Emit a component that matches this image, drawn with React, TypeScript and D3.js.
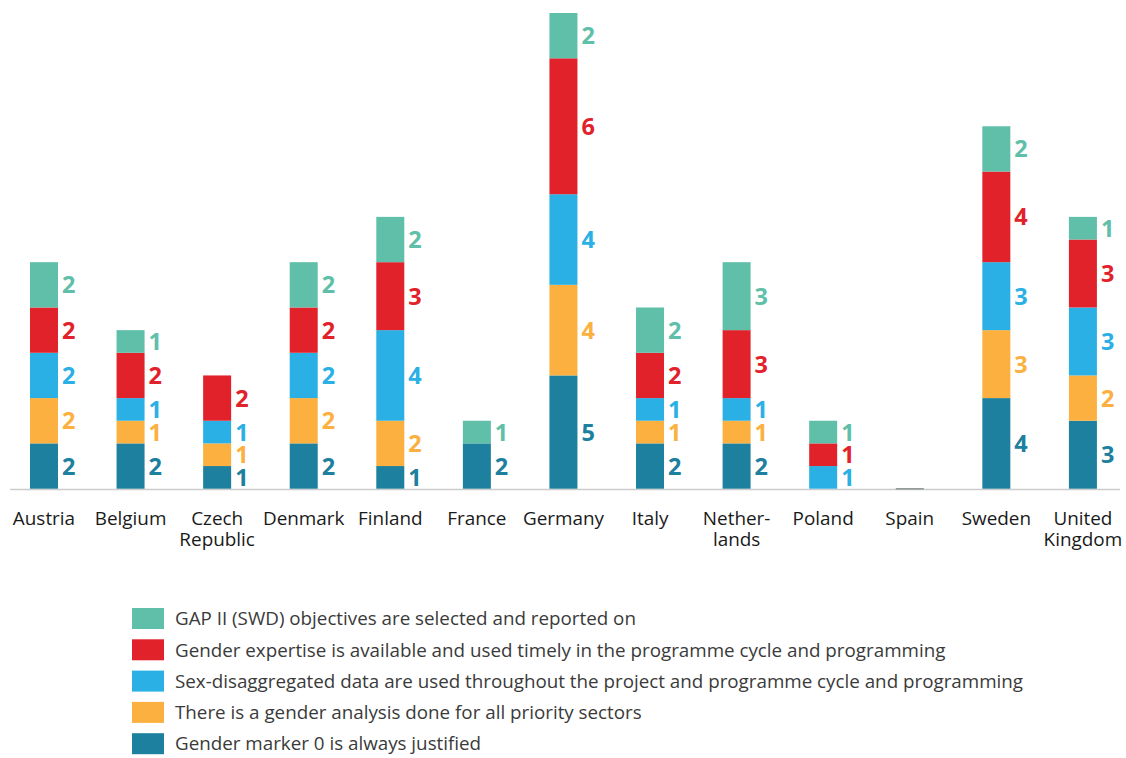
import React from 'react';
import * as d3 from 'd3';

const countries = [
  'Austria', 'Belgium', 'Czech\nRepublic', 'Denmark', 'Finland', 'France', 'Germany',
  'Italy', 'Nether-\nlands', 'Poland', 'Spain', 'Sweden', 'United\nKingdom',
];

// bottom to top
const seriesNames = [
  'Gender marker 0 is always justified',
  'There is a gender analysis done for all priority sectors',
  'Sex-disaggregated data are used throughout the project and programme cycle and programming',
  'Gender expertise is available and used timely in the programme cycle and programming',
  'GAP II (SWD) objectives are selected and reported on',
];
const seriesColors = ['#1d809e', '#fbb040', '#2bb0e6', '#e2222b', '#5fbfa9'];

const markerZero = [2, 2, 1, 2, 1, 2, 5, 2, 2, 0, 0, 4, 3];
const genderAnalysis = [2, 1, 1, 2, 2, 0, 4, 1, 1, 0, 0, 3, 2];
const sexData = [2, 1, 1, 2, 4, 0, 4, 1, 1, 1, 0, 3, 3];
const expertise = [2, 2, 2, 2, 3, 0, 6, 2, 3, 1, 0, 4, 3];
const gapObjectives = [2, 1, 0, 2, 2, 1, 2, 2, 3, 1, 0, 2, 1];

const seriesValues = [markerZero, genderAnalysis, sexData, expertise, gapObjectives];

const W = 1126;
const H = 758;
const baseY = 488.7;
const barW = 28;

const App: React.FC = () => {
  const rows = countries.map((c, i) => {
    const r: Record<string, number | string> = { country: c };
    seriesValues.forEach((vals, k) => { r['s' + k] = vals[i]; });
    return r;
  });
  const keys = seriesValues.map((_, k) => 's' + k);
  const stacked = d3.stack<Record<string, number | string>>().keys(keys)(rows as any);

  const x = d3.scalePoint<string>().domain(countries).range([0.7, 1126.2]).padding(0.5);
  const y = d3.scaleLinear().domain([0, 21]).range([baseY, 13]);

  const font = '"Open Sans", "DejaVu Sans", sans-serif';

  return (
    <svg width={W} height={H} style={{ position: 'absolute', left: 0, top: 0 }} fontFamily={font}>
      <rect width={W} height={H} fill="#ffffff" />
      <line x1={10} x2={1120} y1={baseY + 0.8} y2={baseY + 0.8} stroke="#cccccc" strokeWidth={1.6} />

      {stacked.map((layer, k) => (
        <g key={k}>
          {layer.map((d, i) => {
            const v = d[1] - d[0];
            if (v <= 0) return null;
            const cx = x(countries[i]) as number;
            const y0 = y(d[0]);
            const y1 = y(d[1]);
            return (
              <g key={i}>
                <rect x={cx - barW / 2} y={y1} width={barW} height={y0 - y1} fill={seriesColors[k]} />
                <text
                  x={cx + barW / 2 + 4}
                  y={(y0 + y1) / 2}
                  dy="0.36em"
                  fill={seriesColors[k]}
                  fontSize={23.5}
                  fontWeight="bold"
                >
                  {v}
                </text>
              </g>
            );
          })}
        </g>
      ))}

      {countries.map((c, i) => {
        const total = d3.sum(seriesValues, (s) => s[i]);
        const cx = x(c) as number;
        return total === 0 ? (
          <rect key={'z' + i} x={cx - barW / 2} y={baseY - 0.6} width={barW} height={1.4} fill="#8a8f91" />
        ) : null;
      })}

      {countries.map((c, i) => {
        const cx = x(c) as number;
        return (
          <text key={'l' + i} x={cx} y={525} textAnchor="middle" fontSize={18.9} fill="#1a1a1a">
            {c.split('\n').map((line, j) => (
              <tspan key={j} x={cx} dy={j === 0 ? 0 : 20.5}>{line}</tspan>
            ))}
          </text>
        );
      })}

      {seriesNames.map((_, j) => {
        const k = seriesNames.length - 1 - j;
        const top = 608 + j * 31.3;
        return (
          <g key={'lg' + k}>
            <rect x={132} y={top} width={32} height={21} fill={seriesColors[k]} />
            <text x={175} y={top + 10.5} dy="0.36em" fontSize={18.8} fill="#3a3a3a">
              {seriesNames[k]}
            </text>
          </g>
        );
      })}
    </svg>
  );
};

export default App;
